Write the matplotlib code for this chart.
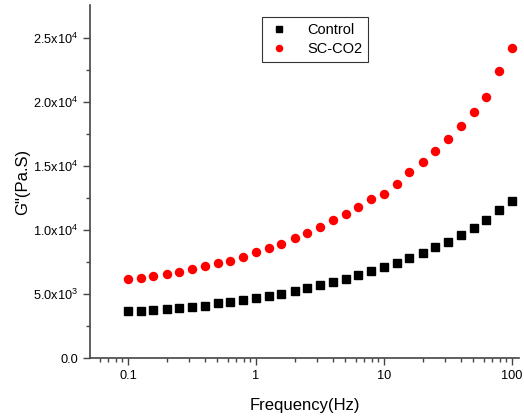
import matplotlib
matplotlib.use("Agg")
import matplotlib.pyplot as plt
import numpy as np
from matplotlib.ticker import FixedLocator, FuncFormatter, LogLocator, NullFormatter

plt.rcParams['font.family'] = ['Liberation Sans', 'DejaVu Sans']
plt.rcParams['mathtext.fontset'] = 'custom'
plt.rcParams['mathtext.rm'] = 'Liberation Sans'

freq = [0.1, 0.126, 0.158, 0.2, 0.251, 0.316, 0.398, 0.501, 0.631, 0.794,
        1.0, 1.26, 1.58, 2.0, 2.51, 3.16, 3.98, 5.01, 6.31, 7.94,
        10.0, 12.6, 15.8, 20.0, 25.1, 31.6, 39.8, 50.1, 63.1, 79.4, 100.0]
control = [3672, 3695, 3750, 3828, 3880, 3958, 4036, 4270, 4400, 4531,
           4687, 4843, 5026, 5260, 5443, 5677, 5912, 6172, 6484, 6797,
           7109, 7448, 7838, 8229, 8672, 9088, 9609, 10182, 10755, 11536, 12266]
sc_co2 = [6146, 6224, 6406, 6562, 6719, 6927, 7161, 7395, 7604, 7916,
          8250, 8580, 8920, 9349, 9740, 10208, 10755, 11250, 11823, 12422,
          12838, 13568, 14505, 15312, 16172, 17083, 18151, 19219, 20365, 22448, 24245]
labels = ["Control", "SC-CO2"]
xticks = [0.1, 1, 10, 100]
xticklabels = ["0.1", "1", "10", "100"]

fig = plt.figure(figsize=(5.24, 4.18), dpi=100)
ax = fig.add_axes([0.172, 0.1435, 0.818, 0.8445])
ax.plot(freq, control, 's', color='black', markersize=5.6, label=labels[0], linestyle='none')
ax.plot(freq, sc_co2, 'o', color='red', markersize=6.8, label=labels[1], linestyle='none', markeredgewidth=0)
ax.set_xscale('log')
ax.set_xlim(0.0506, 113)
ax.set_ylim(0, 27580)

for s in ['top', 'right']:
    ax.spines[s].set_visible(False)
for s in ['left', 'bottom']:
    ax.spines[s].set_color('#444444')
    ax.spines[s].set_linewidth(1.2)

ax.xaxis.set_major_locator(FixedLocator(xticks))
ax.xaxis.set_major_formatter(FuncFormatter(lambda v, p: xticklabels[xticks.index(v)] if v in xticks else ""))
ax.xaxis.set_minor_locator(LogLocator(base=10, subs=np.arange(2, 10)))
ax.xaxis.set_minor_formatter(NullFormatter())

def yfmt(v, p):
    if v <= 0:
        return "0.0"
    e = int(np.floor(np.log10(v)))
    m = v / 10**e
    return r"$\mathregular{%.1fx10^{%d}}$" % (m, e)

ax.yaxis.set_major_locator(FixedLocator([0, 5000, 10000, 15000, 20000, 25000]))
ax.yaxis.set_minor_locator(FixedLocator([2500, 7500, 12500, 17500, 22500]))
ax.yaxis.set_major_formatter(FuncFormatter(yfmt))

ax.tick_params(which='major', direction='out', length=5, width=1, color='#444444', labelsize=9.2)
ax.tick_params(which='minor', direction='out', length=3, width=1, color='#444444')

ax.set_xlabel("Frequency(Hz)", fontsize=12, labelpad=12)
ax.set_ylabel('G"(Pa.S)', fontsize=12, labelpad=2)

leg = ax.legend(loc='upper left', bbox_to_anchor=(0.401, 0.965), fontsize=10.5, frameon=True,
                fancybox=False, edgecolor='black', handletextpad=1.2, borderpad=0.4,
                labelspacing=0.35, handlelength=1.5, markerscale=0.8, borderaxespad=0)
leg.get_frame().set_linewidth(0.8)

fig.savefig("out.png", dpi=100)
